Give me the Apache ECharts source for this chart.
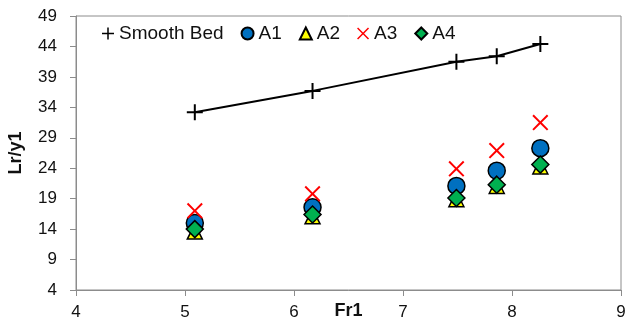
<!DOCTYPE html>
<html>
<head>
<meta charset="utf-8">
<script src="https://cdn.jsdelivr.net/npm/echarts@6/dist/echarts.min.js"></script>
<style>
html,body{margin:0;padding:0;background:#fff;}
#chart{width:625px;height:323px;}
</style>
</head>
<body>
<div id="chart"></div>
<script>
// Data
const fr1 = [5.09, 6.17, 7.49, 7.86, 8.26];
const smoothBed = [33.2, 36.7, 41.5, 42.4, 44.4];
const a1 = [15.0, 17.6, 21.1, 23.6, 27.3];
const a2 = [13.6, 16.1, 18.9, 21.1, 24.3];
const a3 = [17.0, 19.8, 23.9, 26.9, 31.5];
const a4 = [14.0, 16.4, 19.1, 21.3, 24.6];
const seriesNames = ['Smooth Bed', 'A1', 'A2', 'A3', 'A4'];

const pair = ys => fr1.map((x, i) => [x, ys[i]]);

const PLUS = 'path://M-1,-8H1V-1H8V1H1V8H-1V1H-8V-1H-1Z';
const CROSS = 'path://M-8,-6.6L-6.6,-8L0,-1.4L6.6,-8L8,-6.6L1.4,0L8,6.6L6.6,8L0,1.4L-6.6,8L-8,6.6L-1.4,0Z';

const font = 'Liberation Sans, Arial, sans-serif';
const chart = echarts.init(document.getElementById('chart'), null, {renderer: 'canvas'});
chart.setOption({
  animation: false,
  backgroundColor: '#fff',
  textStyle: {fontFamily: font},
  grid: {left: 76, right: 4, top: 16, bottom: 33, show: true, borderColor: '#8c8c8c', borderWidth: 1,
         containLabel: false, outerBoundsMode: 'none'},
  legend: {
    left: 97, top: 19,
    itemWidth: 12, itemHeight: 12, itemGap: 17,
    textStyle: {fontSize: 19, color: '#111', fontFamily: font},
    data: [
      {name: seriesNames[0], icon: PLUS},
      {name: seriesNames[1], icon: 'circle'},
      {name: seriesNames[2], icon: 'triangle'},
      {name: seriesNames[3], icon: CROSS},
      {name: seriesNames[4], icon: 'diamond'}
    ]
  },
  xAxis: {
    type: 'value', min: 4, max: 9, interval: 1,
    name: 'Fr1', nameLocation: 'middle', nameGap: 12, nameMoveOverlap: false,
    nameTextStyle: {fontWeight: 'bold', fontSize: 18, color: '#111', fontFamily: font},
    axisLine: {show: true, lineStyle: {color: '#8c8c8c', width: 1}},
    axisTick: {show: true, length: 6, lineStyle: {color: '#8c8c8c'}},
    axisLabel: {fontSize: 17, color: '#111', margin: 14, hideOverlap: false},
    splitLine: {show: false}
  },
  yAxis: {
    type: 'value', min: 4, max: 49, interval: 5,
    name: 'Lr/y1', nameLocation: 'middle', nameGap: 51, nameRotate: 90, nameMoveOverlap: false,
    nameTextStyle: {fontWeight: 'bold', fontSize: 18, color: '#111', fontFamily: font},
    axisLine: {show: true, lineStyle: {color: '#8c8c8c', width: 1}},
    axisTick: {show: true, length: 6, lineStyle: {color: '#8c8c8c'}},
    axisLabel: {fontSize: 17, color: '#111', margin: 19},
    splitLine: {show: false}
  },
  series: [
    {
      name: seriesNames[0], type: 'line', data: pair(smoothBed),
      symbol: PLUS, symbolSize: 16,
      itemStyle: {color: '#000'},
      lineStyle: {color: '#000', width: 2},
      z: 2
    },
    {
      name: seriesNames[1], type: 'scatter', data: pair(a1),
      symbol: 'circle', symbolSize: 17,
      itemStyle: {color: '#0070C0', borderColor: '#000', borderWidth: 1.5, opacity: 1},
      z: 3
    },
    {
      name: seriesNames[2], type: 'scatter', data: pair(a2),
      symbol: 'triangle', symbolSize: 15,
      itemStyle: {color: '#FFFF00', borderColor: '#000', borderWidth: 1.5, opacity: 1},
      z: 4
    },
    {
      name: seriesNames[3], type: 'scatter', data: pair(a3),
      symbol: CROSS, symbolSize: 16,
      itemStyle: {color: '#FF0000', opacity: 1},
      z: 5
    },
    {
      name: seriesNames[4], type: 'scatter', data: pair(a4),
      symbol: 'diamond', symbolSize: 17,
      itemStyle: {color: '#00B050', borderColor: '#000', borderWidth: 1.5, opacity: 1},
      z: 6
    }
  ]
});
</script>
</body>
</html>
